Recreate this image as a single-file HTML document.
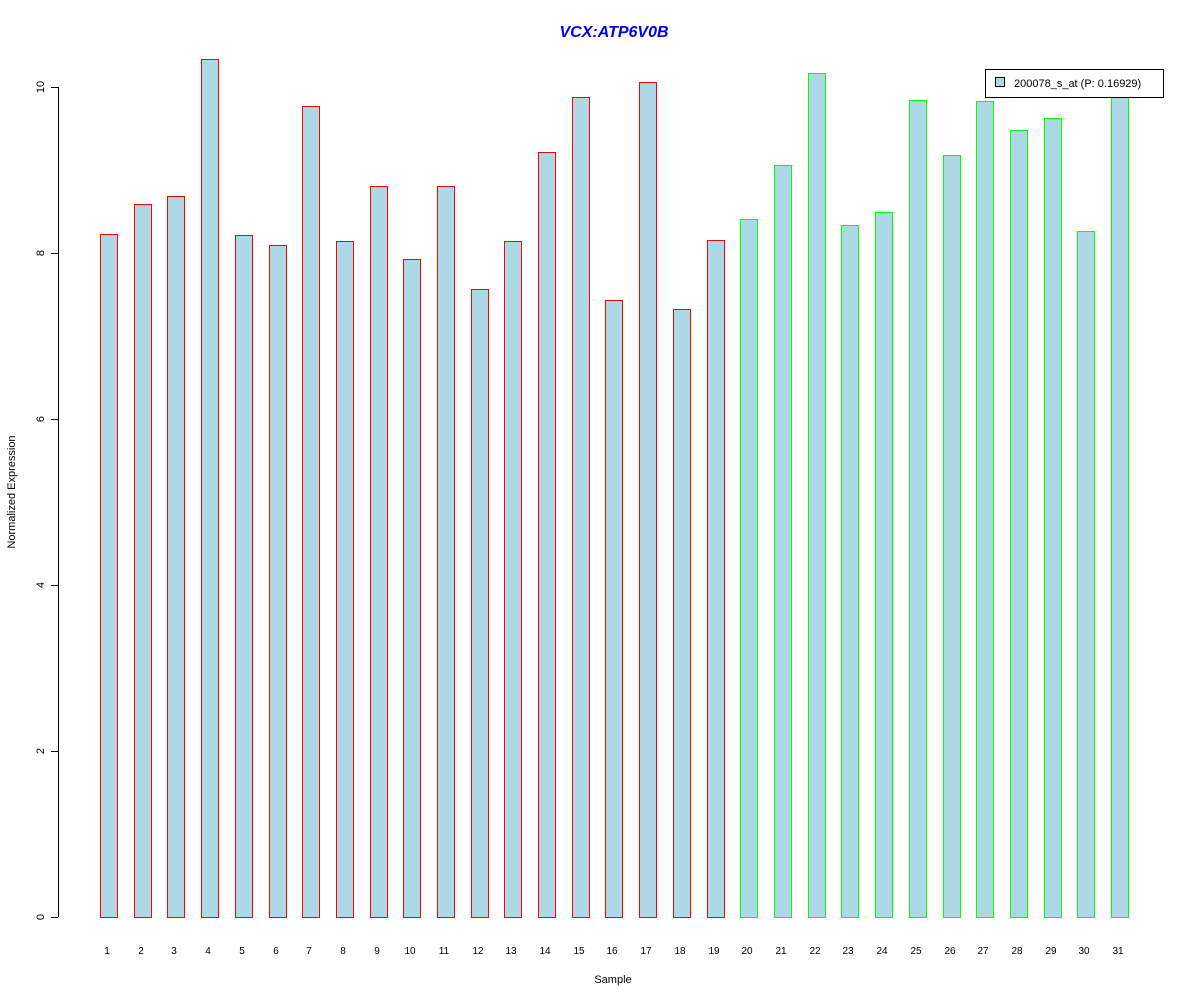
<!DOCTYPE html>
<html><head><meta charset="utf-8"><style>body{margin:0;background:#fff}svg{display:block}</style></head>
<body>
<svg width="1200" height="1000" xmlns="http://www.w3.org/2000/svg" font-family="Liberation Sans, sans-serif" shape-rendering="crispEdges">
<rect width="1200" height="1000" fill="#fff"/>
<text x="614" y="37" text-anchor="middle" font-size="16" font-weight="bold" font-style="italic" fill="#0000ee">VCX:ATP6V0B</text>
<g stroke="#000" fill="none">
<line x1="58.5" y1="87" x2="58.5" y2="917"/>
<line x1="51" y1="917.5" x2="58" y2="917.5"/>
<line x1="51" y1="751.5" x2="58" y2="751.5"/>
<line x1="51" y1="585.5" x2="58" y2="585.5"/>
<line x1="51" y1="419.5" x2="58" y2="419.5"/>
<line x1="51" y1="253.5" x2="58" y2="253.5"/>
<line x1="51" y1="87.5" x2="58" y2="87.5"/>
</g>
<g font-size="11" fill="#000" text-anchor="middle">
<text transform="translate(44,917) rotate(-90)">0</text>
<text transform="translate(44,751) rotate(-90)">2</text>
<text transform="translate(44,585) rotate(-90)">4</text>
<text transform="translate(44,419) rotate(-90)">6</text>
<text transform="translate(44,253) rotate(-90)">8</text>
<text transform="translate(44,87) rotate(-90)">10</text>
<text transform="translate(15,492) rotate(-90)">Normalized Expression</text>
<text x="613" y="983">Sample</text>
</g>
<g fill="#add8e6" stroke="none">
<rect x="100" y="234" width="18" height="684"/>
<rect x="134" y="204" width="18" height="714"/>
<rect x="167" y="196" width="18" height="722"/>
<rect x="201" y="59" width="18" height="859"/>
<rect x="235" y="235" width="18" height="683"/>
<rect x="269" y="245" width="18" height="673"/>
<rect x="302" y="106" width="18" height="812"/>
<rect x="336" y="241" width="18" height="677"/>
<rect x="370" y="186" width="18" height="732"/>
<rect x="403" y="259" width="18" height="659"/>
<rect x="437" y="186" width="18" height="732"/>
<rect x="471" y="289" width="18" height="629"/>
<rect x="504" y="241" width="18" height="677"/>
<rect x="538" y="152" width="18" height="766"/>
<rect x="572" y="97" width="18" height="821"/>
<rect x="605" y="300" width="18" height="618"/>
<rect x="639" y="82" width="18" height="836"/>
<rect x="673" y="309" width="18" height="609"/>
<rect x="707" y="240" width="18" height="678"/>
<rect x="740" y="219" width="18" height="699"/>
<rect x="774" y="165" width="18" height="753"/>
<rect x="808" y="73" width="18" height="845"/>
<rect x="841" y="225" width="18" height="693"/>
<rect x="875" y="212" width="18" height="706"/>
<rect x="909" y="100" width="18" height="818"/>
<rect x="943" y="155" width="18" height="763"/>
<rect x="976" y="101" width="18" height="817"/>
<rect x="1010" y="130" width="18" height="788"/>
<rect x="1044" y="118" width="18" height="800"/>
<rect x="1077" y="231" width="18" height="687"/>
<rect x="1111" y="95" width="18" height="823"/>
</g>
<g fill="none" stroke="#ff0000" stroke-width="1">
<rect x="100.5" y="234.5" width="17" height="683"/>
<rect x="134.5" y="204.5" width="17" height="713"/>
<rect x="167.5" y="196.5" width="17" height="721"/>
<rect x="201.5" y="59.5" width="17" height="858"/>
<rect x="235.5" y="235.5" width="17" height="682"/>
<rect x="269.5" y="245.5" width="17" height="672"/>
<rect x="302.5" y="106.5" width="17" height="811"/>
<rect x="336.5" y="241.5" width="17" height="676"/>
<rect x="370.5" y="186.5" width="17" height="731"/>
<rect x="403.5" y="259.5" width="17" height="658"/>
<rect x="437.5" y="186.5" width="17" height="731"/>
<rect x="471.5" y="289.5" width="17" height="628"/>
<rect x="504.5" y="241.5" width="17" height="676"/>
<rect x="538.5" y="152.5" width="17" height="765"/>
<rect x="572.5" y="97.5" width="17" height="820"/>
<rect x="605.5" y="300.5" width="17" height="617"/>
<rect x="639.5" y="82.5" width="17" height="835"/>
<rect x="673.5" y="309.5" width="17" height="608"/>
<rect x="707.5" y="240.5" width="17" height="677"/>
</g>
<g fill="none" stroke="#00ff00" stroke-width="1">
<rect x="740.5" y="219.5" width="17" height="698"/>
<rect x="774.5" y="165.5" width="17" height="752"/>
<rect x="808.5" y="73.5" width="17" height="844"/>
<rect x="841.5" y="225.5" width="17" height="692"/>
<rect x="875.5" y="212.5" width="17" height="705"/>
<rect x="909.5" y="100.5" width="17" height="817"/>
<rect x="943.5" y="155.5" width="17" height="762"/>
<rect x="976.5" y="101.5" width="17" height="816"/>
<rect x="1010.5" y="130.5" width="17" height="787"/>
<rect x="1044.5" y="118.5" width="17" height="799"/>
<rect x="1077.5" y="231.5" width="17" height="686"/>
<rect x="1111.5" y="95.5" width="17" height="822"/>
</g>
<g font-size="10" text-anchor="middle" fill="#000">
<text x="107" y="954">1</text><text x="141" y="954">2</text><text x="174" y="954">3</text><text x="208" y="954">4</text><text x="242" y="954">5</text><text x="276" y="954">6</text><text x="309" y="954">7</text><text x="343" y="954">8</text><text x="377" y="954">9</text><text x="410" y="954">10</text><text x="444" y="954">11</text><text x="478" y="954">12</text><text x="511" y="954">13</text><text x="545" y="954">14</text><text x="579" y="954">15</text><text x="612" y="954">16</text><text x="646" y="954">17</text><text x="680" y="954">18</text><text x="714" y="954">19</text><text x="747" y="954">20</text><text x="781" y="954">21</text><text x="815" y="954">22</text><text x="848" y="954">23</text><text x="882" y="954">24</text><text x="916" y="954">25</text><text x="950" y="954">26</text><text x="983" y="954">27</text><text x="1017" y="954">28</text><text x="1051" y="954">29</text><text x="1084" y="954">30</text><text x="1118" y="954">31</text>
</g>
<rect x="985.5" y="69.5" width="178" height="28" fill="#fff" stroke="#000"/>
<rect x="995.5" y="77.5" width="9" height="9" fill="#add8e6" stroke="#000"/>
<text x="1014" y="87" font-size="11" shape-rendering="auto">200078_s_at (P: 0.16929)</text>
</svg>
</body></html>
